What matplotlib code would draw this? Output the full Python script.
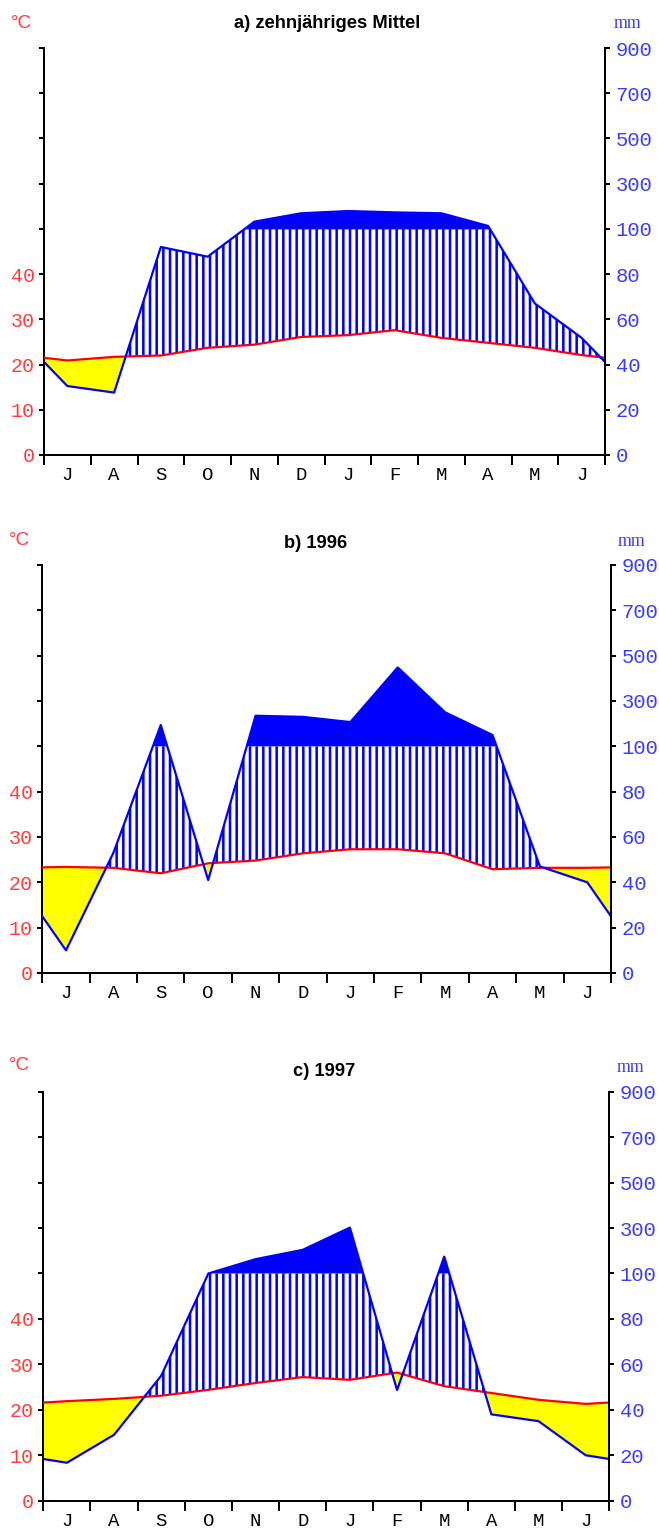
import numpy as np
import matplotlib
matplotlib.use('Agg')
import matplotlib.pyplot as plt

# Klimadiagramme (Walter-Lieth), Monate Juli..Juni
months = ['J', 'A', 'S', 'O', 'N', 'D', 'J', 'F', 'M', 'A', 'M', 'J']

temp_a = [20.9, 21.7, 22.0, 23.7, 24.4, 26.1, 26.5, 27.6, 25.9, 24.8, 23.7, 22.1]
prec_a = [30.5, 27.6, 92, 87.7, 132, 169, 179, 173, 169, 113, 67, 51.8]

temp_b = [23.4, 23.2, 22.0, 24.2, 24.8, 26.4, 27.3, 27.3, 26.4, 22.9, 23.2, 23.2]
prec_b = [10, 53, 194, 41, 235, 230, 207, 448, 250, 150, 47, 40]

temp_c = [21.9, 22.4, 23.1, 24.4, 25.9, 27.2, 26.6, 28.2, 25.2, 23.7, 22.2, 21.3]
prec_c = [16.7, 29, 55, 100, 163, 204, 302, 48.7, 174, 38, 35, 20]

titles = ['a) zehnjähriges Mittel', 'b) 1996', 'c) 1997']
temp_ticks = [0, 10, 20, 30, 40]
prec_ticks = [0, 20, 40, 60, 80, 100, 300, 500, 700, 900]

W, H, DPI = 659, 1531, 80
RED, BLUE, YEL = '#ff0000', '#0000ff', '#ffff00'
RED_T, BLUE_T = '#ff3b3b', '#3b3bff'

plt.rcParams['hatch.linewidth'] = 2.3
plt.rcParams['font.family'] = 'Liberation Sans'


def squash(p):
    # ueber 100 mm auf 1/10 gestaucht
    p = np.asarray(p, float)
    return np.where(p > 100, 100 + (p - 100) / 10.0, p)


def closed(v):
    v = np.asarray(v, float)
    edge = (v[0] + v[-1]) / 2.0
    return np.concatenate([[edge], v, [edge]])


def px(x, y):
    return x / W, 1 - y / H


def diagram(fig, box, temp, prec):
    left, top, right, bottom = box
    ax = fig.add_axes([left / W, 1 - bottom / H, (right - left) / W, (bottom - top) / H])
    x = np.concatenate([[0], np.arange(12) + 0.5, [12]])
    t2 = closed(2 * np.asarray(temp))
    pt = closed(squash(prec))
    xf = np.linspace(0, 12, 2401)
    tf = np.interp(xf, x, t2)
    pf = np.interp(xf, x, pt)

    ax.fill_between(xf, pf, tf, where=pf < tf, interpolate=True, color=YEL, lw=0)
    ax.fill_between(xf, tf, np.minimum(pf, 100), where=pf > tf, interpolate=True,
                    facecolor='none', edgecolor=BLUE, hatch='||', lw=0)
    ax.fill_between(xf, 100, pf, where=pf > 100, interpolate=True, color=BLUE, lw=0)
    ax.plot(x, t2, color=RED, lw=2.0, zorder=3)
    ax.plot(x, pt, color=BLUE, lw=2.0, zorder=4)

    ax.set_xlim(0, 12)
    ax.set_ylim(0, 180)
    ax.set_xticks(range(13))
    ax.set_xticklabels([])
    ax.set_xticks(np.arange(12) + 0.5, minor=True)
    ax.set_xticklabels(months, minor=True, family='Liberation Mono', fontsize=17)
    ax.tick_params(axis='x', which='major', direction='out', length=9, width=1.8)
    ax.tick_params(axis='x', which='minor', length=0, pad=11)

    yt = np.arange(0, 181, 20)
    ax.set_yticks(yt)
    ax.set_yticklabels([str(v // 2) if v // 2 in temp_ticks else '' for v in yt],
                       family='Liberation Mono', fontsize=18, color=RED_T)
    ax.tick_params(axis='y', direction='out', length=4.5, width=1.8, pad=4)

    ax2 = ax.twinx()
    ax2.set_ylim(0, 180)
    ax2.set_yticks(squash(prec_ticks))
    ax2.set_yticklabels([str(p) for p in prec_ticks], family='Liberation Mono',
                        fontsize=18.5, color=BLUE_T)
    ax2.tick_params(axis='y', direction='out', length=4.5, width=1.8, pad=5)

    for a in (ax, ax2):
        a.spines['top'].set_visible(False)
        for s in a.spines.values():
            s.set_linewidth(1.8)
    ax.spines['right'].set_visible(False)
    ax2.spines['left'].set_visible(False)
    ax2.spines['bottom'].set_visible(False)
    return ax


fig = plt.figure(figsize=(W / DPI, H / DPI), dpi=DPI)

boxes = [(44, 48, 605, 455), (42.3, 565, 611, 973), (43.3, 1091.7, 609.3, 1500.7)]
title_pos = [(327, 23), (316, 544), (324, 1072)]
degc_pos = [(11, 23), (9, 540), (9, 1066)]
mm_pos = [(614, 24), (618, 541), (617, 1068)]
data = [(temp_a, prec_a), (temp_b, prec_b), (temp_c, prec_c)]

for i in range(3):
    diagram(fig, boxes[i], *data[i])
    fig.text(*px(*title_pos[i]), titles[i], ha='center', va='center',
             fontsize=16.5, fontweight='bold')
    fig.text(*px(*degc_pos[i]), '°C', ha='left', va='center', fontsize=17, color=RED_T)
    fig.text(*px(*mm_pos[i]), 'mm', ha='left', va='center', fontsize=16,
             family='Liberation Serif', color=BLUE_T)

fig.savefig('out.png', dpi=DPI)
